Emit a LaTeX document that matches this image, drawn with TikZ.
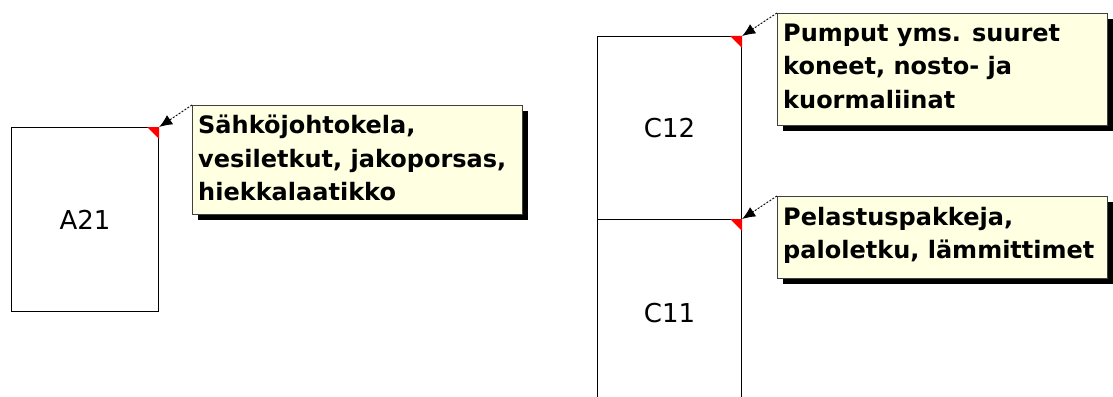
\documentclass[tikz,border=0pt]{standalone}
\usepackage{fontspec}
\setmainfont{DejaVu Sans}
\usetikzlibrary{arrows.meta,shadows}
\definecolor{notefill}{HTML}{FFFFE1}
\begin{document}
\begin{tikzpicture}[x=1pt,y=-1pt,
  roombox/.style={draw=black,line width=1.2pt,fill=white,anchor=north west,
    inner sep=0pt,font=\fontsize{26}{30}\selectfont},
  notebox/.style={draw=black!75,line width=1.2pt,fill=notefill,anchor=north west,
    inner sep=0pt,drop shadow={shadow xshift=5pt,shadow yshift=-5pt,
    fill=black,opacity=1}},
  notetext/.style={anchor=base west,inner sep=0pt,align=left,
    font=\bfseries\fontsize{24}{33.5}\selectfont},
  pointer/.style={line width=0.9pt,dash pattern=on 2pt off 1.5pt,
    -{Latex[length=13pt,width=11pt]}},
  flag/.style={fill=red}]
\clip (0,0) rectangle (1113,396);
\fill[white] (0,0) rectangle (1113,396);

% storage sections
\node[roombox,minimum width=147,minimum height=184] (a21) at (11,127) {A21};
\node[roombox,minimum width=144,minimum height=183] (c12) at (597,36) {C12};
\node[roombox,minimum width=144,minimum height=186] (c11) at (597,219) {C11};

% comment markers in the section corners
\foreach \s in {a21,c12,c11}{
  \fill[flag] ([xshift=-12pt]\s.north east) -- (\s.north east)
    -- ([yshift=-12pt]\s.north east) -- cycle;
}

% comment notes (text placed by the baseline of its last line)
\node[notebox,minimum width=330,minimum height=109] (na21) at (192,105) {};
\node[notetext] (ta21) at (198,200.5)
  {Sähköjohtokela,\\vesiletkut, jakoporsas,\\hiekkalaatikko};

\node[notebox,minimum width=330,minimum height=112] (nc12) at (777,13) {};
\node[notetext] (tc12) at (783,108)
  {Pumput yms. suuret\\koneet, nosto- ja\\kuormaliinat};

\node[notebox,minimum width=330,minimum height=82] (nc11) at (777,196) {};
\node[notetext] (tc11) at (783,258.5)
  {Pelastuspakkeja,\\paloletku, lämmittimet};

% pointers from the notes to their sections
\draw[pointer] (na21.north west) -- (a21.north east);
\draw[pointer] (nc12.north west) -- (c12.north east);
\draw[pointer] (nc11.north west) -- (c11.north east);
\end{tikzpicture}
\end{document}
